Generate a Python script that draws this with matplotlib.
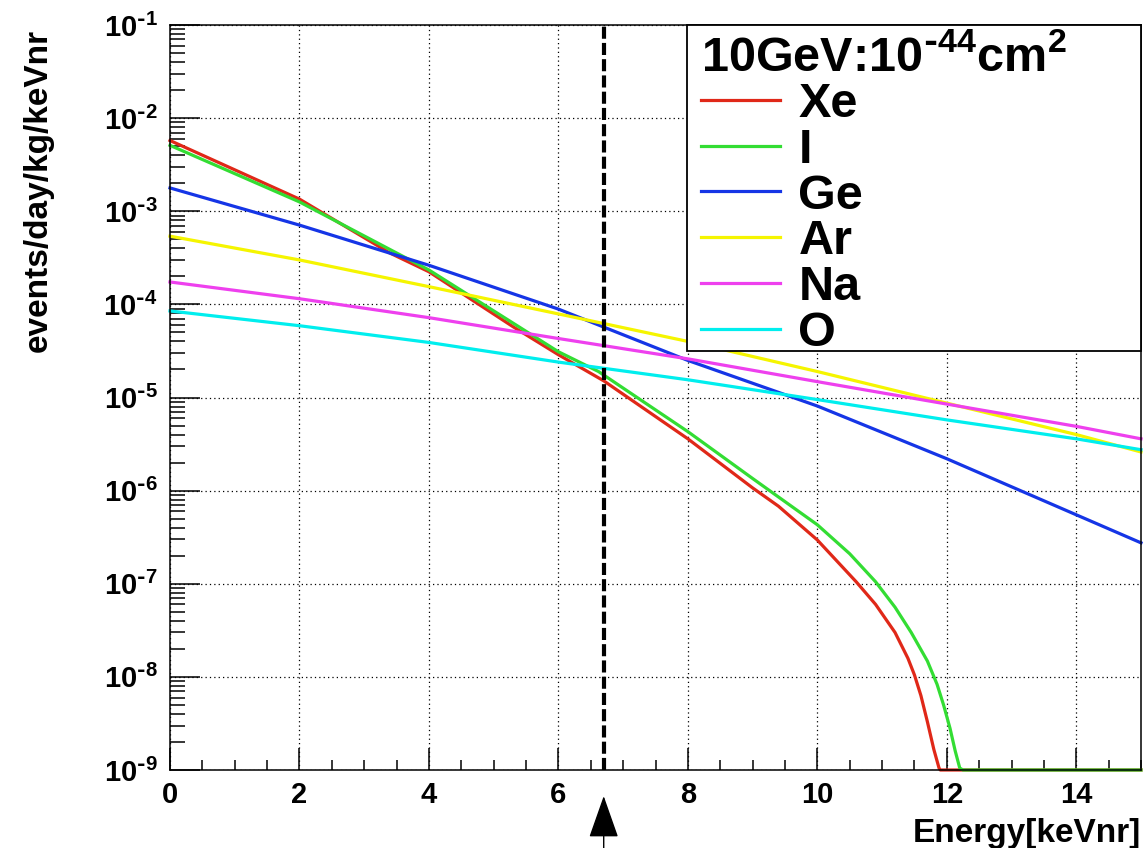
import numpy as np
import matplotlib
matplotlib.use('Agg')
from matplotlib import pyplot as plt
from matplotlib.ticker import MultipleLocator, LogLocator, NullFormatter, FuncFormatter
from matplotlib.patches import FancyArrowPatch, Rectangle

plt.rcParams['font.family'] = 'Liberation Sans'
plt.rcParams['font.weight'] = 'bold'
plt.rcParams['mathtext.default'] = 'regular'
plt.rcParams['axes.unicode_minus'] = False

# recoil spectra, energy in keVnr, rate in events/day/kg/keVnr
e_xe = [0, 2, 3.4, 4, 5.3, 6, 6.7, 8, 9, 9.4, 10, 10.6, 10.9, 11.2, 11.4, 11.5, 11.6, 11.7, 11.8, 11.88, 11.9, 15]
r_xe = [5.75e-3, 1.35e-3, 3.55e-4, 2.24e-4, 5.75e-5, 2.88e-5, 1.51e-5, 3.6e-6, 1.07e-6, 6.8e-7,
        2.95e-7, 1.05e-7, 6.0e-8, 3.0e-8, 1.58e-8, 1.05e-8, 6.3e-9, 3.3e-9, 1.66e-9, 1.05e-9, 0, 0]

e_i = [0, 2, 4, 6, 6.62, 8, 9, 10, 10.5, 10.9, 11.2, 11.45, 11.7, 11.85, 11.95, 12.05, 12.13, 12.2, 12.25, 15]
r_i = [5.1e-3, 1.26e-3, 2.34e-4, 3.1e-5, 1.9e-5, 4.3e-6, 1.35e-6, 4.3e-7, 2.1e-7, 1.05e-7, 5.6e-8,
       3.0e-8, 1.48e-8, 8.3e-9, 5.0e-9, 2.8e-9, 1.6e-9, 1.05e-9, 0, 0]

e_ge = [0, 2, 4, 6, 8, 10, 12, 14, 15]
r_ge = [1.78e-3, 7.1e-4, 2.63e-4, 8.9e-5, 2.5e-5, 8.1e-6, 2.2e-6, 5.5e-7, 2.75e-7]

e_ar = [0, 2, 4, 6, 8, 10, 12, 14, 15]
r_ar = [5.4e-4, 3.0e-4, 1.55e-4, 7.9e-5, 4.0e-5, 1.9e-5, 8.7e-6, 4.0e-6, 2.6e-6]

e_na = [0, 2, 4, 6, 8, 10, 12, 14, 15]
r_na = [1.74e-4, 1.15e-4, 7.2e-5, 4.3e-5, 2.6e-5, 1.48e-5, 8.5e-6, 4.9e-6, 3.6e-6]

e_o = [0, 2, 4, 6, 8, 10, 12, 14, 15]
r_o = [8.5e-5, 5.9e-5, 3.9e-5, 2.4e-5, 1.55e-5, 9.5e-6, 5.75e-6, 3.6e-6, 2.75e-6]

threshold = 6.7
ymin, ymax = 1e-9, 1e-1

series = [('Xe', e_xe, r_xe, '#e02818'),
          ('I', e_i, r_i, '#33dd33'),
          ('Ge', e_ge, r_ge, '#1535e6'),
          ('Ar', e_ar, r_ar, '#f5f500'),
          ('Na', e_na, r_na, '#ee40ee'),
          ('O', e_o, r_o, '#00eeee')]


def decade_label(v, pos):
    if v < ymin * 0.99 or v > ymax * 1.01:
        return ''
    return r'$10^{\text{-}%d}$' % round(-np.log10(v))


fig = plt.figure(figsize=(11.44, 8.48), dpi=100)
ax = fig.add_axes([170/1144, 78/848, 971/1144, 745/848])

for name, e, r, c in series:
    ax.plot(e, np.clip(r, ymin, None), color=c, lw=2.3, label=name, clip_on=False)

ax.axvline(threshold, color='black', lw=3, linestyle=(0, (2.9, 1.0)))
arrow = FancyArrowPatch((threshold, -0.105), (threshold, -0.035),
                        transform=ax.get_xaxis_transform(), clip_on=False,
                        arrowstyle='-|>,head_length=2.7,head_width=0.95', mutation_scale=10,
                        color='black', lw=1, shrinkA=0, shrinkB=0)
ax.add_patch(arrow)

ax.set_yscale('log')
ax.set_xlim(0, 15)
ax.set_ylim(ymin, ymax)
ax.xaxis.set_major_locator(MultipleLocator(2))
ax.xaxis.set_minor_locator(MultipleLocator(0.5))
ax.yaxis.set_major_locator(LogLocator(base=10, numticks=20))
ax.yaxis.set_minor_locator(LogLocator(base=10, subs=range(2, 10), numticks=100))
ax.yaxis.set_minor_formatter(NullFormatter())
ax.yaxis.set_major_formatter(FuncFormatter(decade_label))

ax.tick_params(axis='both', which='both', direction='in', width=1.1, labelsize=21)
ax.tick_params(axis='x', which='major', length=16, pad=8)
ax.tick_params(axis='x', which='minor', length=7)
ax.tick_params(axis='y', which='major', length=21.5, pad=9)
ax.tick_params(axis='y', which='minor', length=11)
for s in ax.spines.values():
    s.set_linewidth(1.1)

ax.grid(True, which='major', color='black', linestyle=(0, (1, 2.5)), lw=0.9)

ax.set_xlabel('Energy[keVnr]', fontsize=24, fontweight='bold', loc='right')
ax.xaxis.set_label_coords(1.0, -0.064)
ax.set_ylabel('events/day/kg/keVnr', fontsize=24, fontweight='bold', loc='top')
ax.yaxis.set_label_coords(-0.12, 0.995)

# legend box: ROOT-style white pad at the top right
ax.add_patch(Rectangle((0.532, 0.5624), 0.468, 0.4376, transform=ax.transAxes,
                       facecolor='white', edgecolor='black', lw=1.3, zorder=4, clip_on=False))
leg = ax.legend(loc='upper left', bbox_to_anchor=(0.532, 1.0067), borderaxespad=0,
                title=r'10GeV:10$^{\text{-}44}$cm$^{2}$',
                title_fontproperties={'size': 35, 'weight': 'bold'}, alignment='left',
                fontsize=35, handlelength=1.63, handletextpad=0.37, labelspacing=0.02,
                borderpad=0.3, frameon=False)
leg.set_zorder(5)
for h in leg.get_lines():
    h.set_linewidth(2.3)

plt.savefig('out.png', dpi=100)
